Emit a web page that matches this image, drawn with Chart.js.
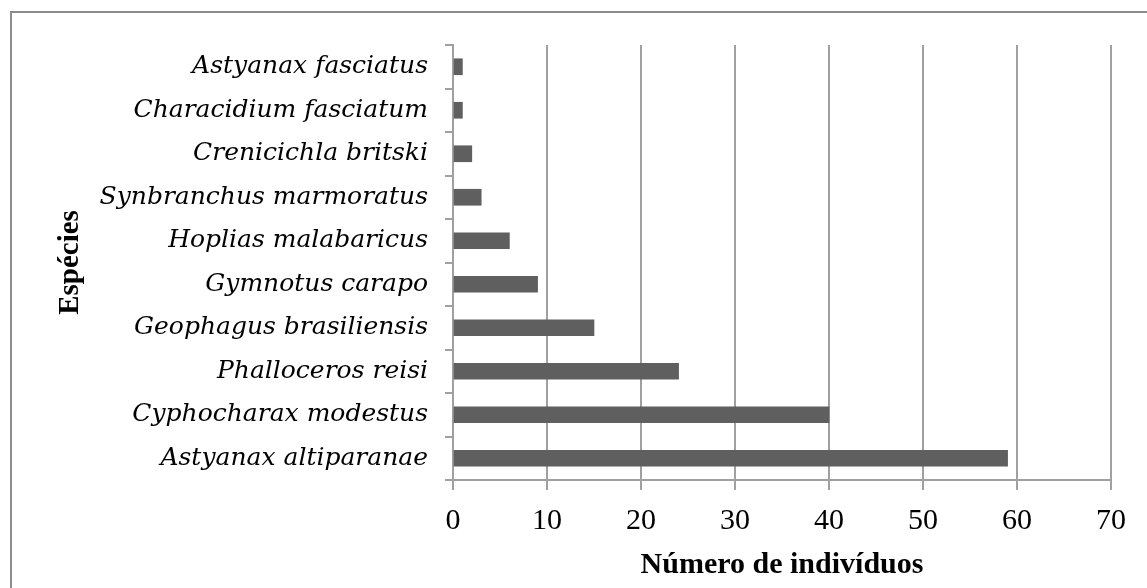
<!DOCTYPE html>
<html>
<head>
<meta charset="utf-8">
<script src="https://cdn.jsdelivr.net/npm/chart.js"></script>
<style>
  html, body { margin: 0; padding: 0; background: #fff; overflow: hidden; }
  #frame { position: absolute; left: 10px; top: 11px; width: 1160px; height: 600px; border: 2px solid #8c8c8c; }
  #wrap { position: absolute; left: 0; top: 0; width: 1147px; height: 588px; }
</style>
</head>
<body>
<div id="frame"></div>
<div id="wrap"><canvas id="chart"></canvas></div>
<script>
// species, top to bottom as in the figure
const species = [
  "Astyanax fasciatus",
  "Characidium fasciatum",
  "Crenicichla britski",
  "Synbranchus marmoratus",
  "Hoplias malabaricus",
  "Gymnotus carapo",
  "Geophagus brasiliensis",
  "Phalloceros reisi",
  "Cyphocharax modestus",
  "Astyanax altiparanae"
];
const counts = [1, 1, 2, 3, 6, 9, 15, 24, 40, 59];
const xTicks = [0, 10, 20, 30, 40, 50, 60, 70];

const lineGray = "#a0a0a0";

var ctx = document.getElementById("chart").getContext("2d");
var chart = new Chart(ctx, {
  type: "bar",
  data: {
    labels: species,
    datasets: [
      {
        label: "Número de indivíduos",
        data: counts,
        backgroundColor: "#5f5f5f",
        borderWidth: 0,
        barThickness: 16,
      },
    ],
  },
  options: {
    indexAxis: "y",
    responsive: true,
    maintainAspectRatio: false,
    animation: false,
    layout: { padding: { top: 45, right: 36, left: 0, bottom: 0 } },
    plugins: {
      legend: { display: false },
      tooltip: { enabled: false },
    },
    scales: {
      x: {
        min: xTicks[0],
        max: xTicks[xTicks.length - 1],
        afterBuildTicks: function (scale) {
          scale.ticks = xTicks.map(function (v) { return { value: v }; });
        },
        afterFit: function (scale) { scale.height = 108; },
        grid: { color: lineGray, lineWidth: 2, tickLength: 10 },
        border: { color: lineGray, width: 2 },
        ticks: {
          color: "#000",
          padding: 13,
          maxRotation: 0,
          font: { family: "'Liberation Serif', 'Times New Roman', serif", size: 30 },
        },
        title: {
          display: true,
          text: "Número de indivíduos",
          color: "#000",
          padding: { top: 0, bottom: 5 },
          font: { family: "'Liberation Serif', 'Times New Roman', serif", size: 30, weight: "bold" },
        },
      },
      y: {
        afterFit: function (scale) { scale.width = 453; },
        grid: { drawOnChartArea: false, color: lineGray, lineWidth: 2, tickLength: 8, offset: true },
        border: { color: lineGray, width: 2 },
        ticks: {
          color: "#000",
          padding: 17,
          autoSkip: false,
          font: { family: "'DejaVu Serif', serif", size: 25, style: "italic" },
        },
        title: {
          display: true,
          text: "Espécies",
          color: "#000",
          padding: { top: 53, bottom: 0 },
          font: { family: "'Liberation Serif', 'Times New Roman', serif", size: 29, weight: "bold" },
        },
      },
    },
  },
});
</script>
</body>
</html>
